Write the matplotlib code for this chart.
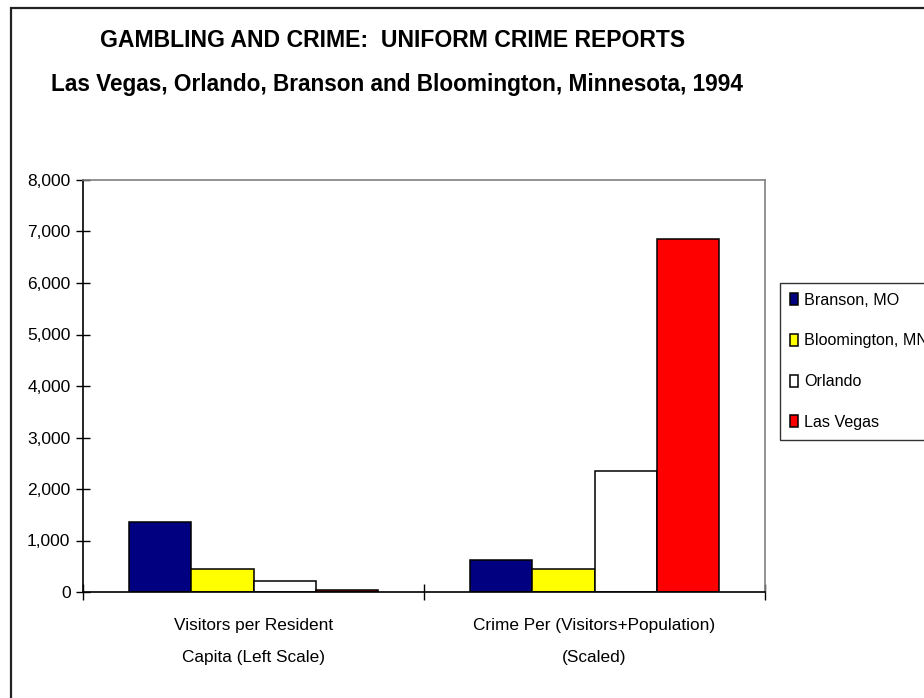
import matplotlib
matplotlib.use('Agg')
import matplotlib.pyplot as plt
import numpy as np
from matplotlib.patches import Rectangle

# --- dados ---
categories = ['Visitors per Resident\nCapita (Left Scale)',
              'Crime Per (Visitors+Population)\n(Scaled)']
cities = ['Branson, MO', 'Bloomington, MN', 'Orlando', 'Las Vegas']
branson = [1360, 614]
bloomington = [447, 447]
orlando = [206, 2344]
las_vegas = [45, 6848]
yticks = [0, 1000, 2000, 3000, 4000, 5000, 6000, 7000, 8000]

colors = ['#000080', '#FFFF00', '#FFFFFF', '#FF0000']
FONT = 'Liberation Sans'

W, H = 924, 698
fig = plt.figure(figsize=(W / 100, H / 100), dpi=100)

# moldura externa (cortada a direita e embaixo)
fig.patches.append(Rectangle((11 / W, -0.1), 1.2, 1 - 8 / H + 0.1,
                             transform=fig.transFigure, fill=False,
                             edgecolor='#222222', linewidth=1.6))

ax = fig.add_axes([83 / W, 1 - 592 / H, 682 / W, 412 / H])

series = [branson, bloomington, orlando, las_vegas]
x = np.arange(len(categories))
bw = 0.182
handles = []
for i, (vals, col) in enumerate(zip(series, colors)):
    b = ax.bar(x + (i - 1.5) * bw, vals, bw, color=col, edgecolor='black',
               linewidth=1.1, label=cities[i])
    handles.append(b)

ax.set_xlim(-0.5, 1.5)
ax.set_ylim(0, 8000)
ax.set_yticks(yticks)
ax.set_yticklabels([f'{v:,}' for v in yticks], family=FONT, fontsize=12.5)

ax.set_xticks(x)
ax.set_xticklabels(categories, family=FONT, fontsize=12.4, linespacing=2.35)
ax.tick_params(axis='x', which='major', length=0, pad=19)
ax.set_xticks([-0.5, 0.5, 1.5], minor=True)
ax.tick_params(axis='x', which='minor', direction='inout', length=11, width=1)
ax.tick_params(axis='y', direction='inout', length=10, width=1, pad=4)

for s in ['left', 'bottom']:
    ax.spines[s].set_color('black')
    ax.spines[s].set_linewidth(1.2)
for s in ['top', 'right']:
    ax.spines[s].set_color('#808080')
    ax.spines[s].set_linewidth(1.2)

leg = fig.legend(handles=handles, labels=cities, loc='upper left',
                 bbox_to_anchor=(780 / W, 1 - 283 / H), frameon=True,
                 fancybox=False, shadow=False, prop={'family': FONT, 'size': 11.6},
                 handlelength=0.5, handleheight=0.75, handletextpad=0.4,
                 labelspacing=1.6, borderpad=0.6, borderaxespad=0)
leg.get_frame().set_edgecolor('black')
leg.get_frame().set_linewidth(1.0)

fig.text(393 / W, 1 - 47 / H, 'GAMBLING AND CRIME:  UNIFORM CRIME REPORTS',
         ha='center', va='baseline', family=FONT, weight='bold', fontsize=16.6)
fig.text(397 / W, 1 - 91 / H, 'Las Vegas, Orlando, Branson and Bloomington, Minnesota, 1994',
         ha='center', va='baseline', family=FONT, weight='bold', fontsize=16.3)

fig.savefig('out.png', dpi=100)
